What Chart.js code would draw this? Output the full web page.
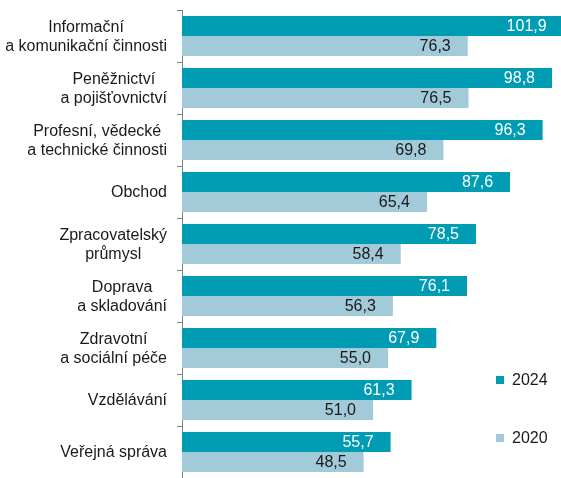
<!DOCTYPE html>
<html>
<head>
<meta charset="utf-8">
<script src="https://cdn.jsdelivr.net/npm/chart.js@4/dist/chart.umd.min.js"></script>
<style>
  html, body { margin: 0; padding: 0; background: #ffffff; }
  #wrap { position: relative; width: 561px; height: 478px; }
</style>
</head>
<body>
<div id="wrap"><canvas id="c"></canvas></div>
<script>
const categories = [
  ["Informační", "a komunikační činnosti"],
  ["Peněžnictví", "a pojišťovnictví"],
  ["Profesní, vědecké", "a technické činnosti"],
  ["Obchod"],
  ["Zpracovatelský", "průmysl"],
  ["Doprava", "a skladování"],
  ["Zdravotní", "a sociální péče"],
  ["Vzdělávání"],
  ["Veřejná správa"]
];
const seriesNames = ["2024", "2020"];
const values2024 = [101.9, 98.8, 96.3, 87.6, 78.5, 76.1, 67.9, 61.3, 55.7];
const values2020 = [76.3, 76.5, 69.8, 65.4, 58.4, 56.3, 55.0, 51.0, 48.5];

const colors = ["#009CB4", "#A2CAD8"];
const labelColors = ["#ffffff", "#1a1a1a"];
const FONT = "'Liberation Sans', Arial, sans-serif";

const fmt = v => v.toFixed(1).replace('.', ',');

const valueLabels = {
  id: 'valueLabels',
  afterDatasetsDraw(chart) {
    const ctx = chart.ctx;
    ctx.save();
    ctx.font = "16px " + FONT;
    ctx.textAlign = 'right';
    ctx.textBaseline = 'middle';
    chart.data.datasets.forEach((ds, di) => {
      const meta = chart.getDatasetMeta(di);
      meta.data.forEach((bar, i) => {
        ctx.fillStyle = labelColors[di];
        ctx.fillText(fmt(ds.data[i]), bar.x - 17, bar.y + 1);
      });
    });
    ctx.restore();
  }
};

// category labels: each block right-aligned to the axis, its lines centred within the block
const categoryLabels = {
  id: 'categoryLabels',
  afterDraw(chart) {
    const ctx = chart.ctx;
    const ys = chart.scales.y;
    ctx.save();
    ctx.font = "16px " + FONT;
    ctx.fillStyle = '#1a1a1a';
    ctx.textAlign = 'center';
    ctx.textBaseline = 'middle';
    const lh = 19;
    const rightEdge = ys.right - 15;
    chart.data.labels.forEach((lines, i) => {
      const y = ys.getPixelForValue(i);
      const widest = Math.max(...lines.map(l => ctx.measureText(l).width));
      const cx = rightEdge - widest / 2;
      const y0 = y - (lines.length - 1) * lh / 2;
      lines.forEach((l, k) => ctx.fillText(l, cx, y0 + k * lh + 1));
    });
    ctx.restore();
  }
};

const customLegend = {
  id: 'customLegend',
  afterDraw(chart) {
    const ctx = chart.ctx;
    ctx.save();
    ctx.font = "16px " + FONT;
    ctx.textAlign = 'left';
    ctx.textBaseline = 'middle';
    const ys = [380, 438];
    chart.data.datasets.forEach((ds, di) => {
      ctx.fillStyle = ds.backgroundColor;
      ctx.fillRect(496, ys[di] - 4, 8, 8);
      ctx.fillStyle = '#1a1a1a';
      ctx.fillText(ds.label, 512, ys[di] + 1);
    });
    ctx.restore();
  }
};

new Chart(document.getElementById('c'), {
  type: 'bar',
  data: {
    labels: categories,
    datasets: [
      { label: seriesNames[0], data: values2024, backgroundColor: colors[0], borderWidth: 0,
        categoryPercentage: 0.77, barPercentage: 1.0 },
      { label: seriesNames[1], data: values2020, backgroundColor: colors[1], borderWidth: 0,
        categoryPercentage: 0.77, barPercentage: 1.0 }
    ]
  },
  options: {
    indexAxis: 'y',
    responsive: true,
    maintainAspectRatio: false,
    animation: false,
    layout: { padding: { top: 10, right: 0, bottom: 0, left: 0 } },
    plugins: {
      legend: { display: false },
      tooltip: { enabled: false }
    },
    scales: {
      x: { display: false, min: 0, max: 101.2 },
      y: {
        afterFit(scale) { scale.width = 182; scale.paddingTop = 0; scale.paddingBottom = 0; },
        grid: { offset: true, drawOnChartArea: false, tickLength: 5, color: '#808080', tickWidth: 1 },
        border: { color: '#808080', width: 1 },
        ticks: { display: false, autoSkip: false }
      }
    }
  },
  plugins: [valueLabels, categoryLabels, customLegend]
});
</script>
</body>
</html>
